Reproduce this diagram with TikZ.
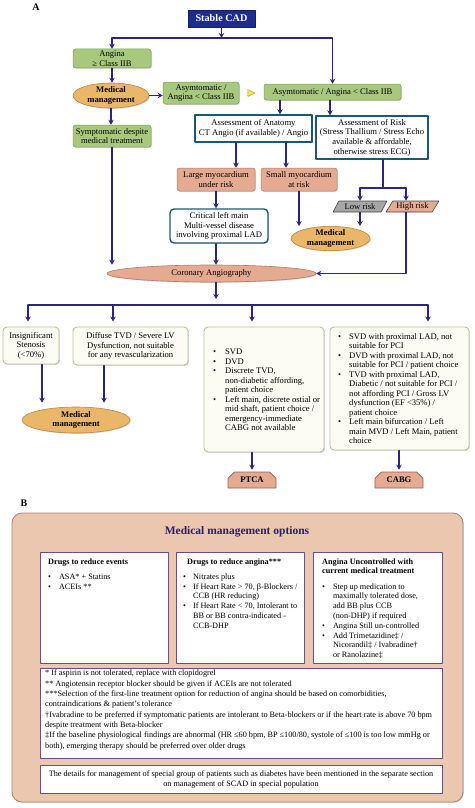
\documentclass[tikz,border=0pt]{standalone}
\usepackage{fontspec}
\setmainfont{Liberation Serif}
\usepackage{xcolor}
\usepackage{tikz}
\usetikzlibrary{arrows.meta,calc,shapes.geometric,shapes.misc,shadows}

\definecolor{navyline}{RGB}{44,38,128}
\definecolor{cadblue}{RGB}{30,44,140}
\definecolor{greenf}{RGB}{168,200,126}
\definecolor{greenb}{RGB}{128,160,92}
\definecolor{orangef}{RGB}{234,182,106}
\definecolor{orangeb}{RGB}{186,136,66}
\definecolor{tealb}{RGB}{28,88,118}
\definecolor{salmonf}{RGB}{228,170,146}
\definecolor{salmonb}{RGB}{182,122,98}
\definecolor{grayf}{RGB}{166,166,166}
\definecolor{grayb}{RGB}{70,70,70}
\definecolor{creamf}{RGB}{252,252,244}
\definecolor{creamb}{RGB}{186,194,156}
\definecolor{peachf}{RGB}{236,199,175}
\definecolor{peachb}{RGB}{168,138,118}
\definecolor{purpleb}{RGB}{108,78,140}
\definecolor{titlec}{RGB}{44,28,108}
\definecolor{hintf}{RGB}{250,230,60}

\tikzset{
  >={Stealth[length=5pt,width=5.5pt]},
  every picture/.style={line cap=round,line join=round},
  conn/.style={draw=navyline, line width=1.1pt},
  arr/.style={conn, ->},
  boxshadow/.style={drop shadow={opacity=0.3, shadow xshift=0.9pt, shadow yshift=-0.9pt}},
  cadbox/.style={rectangle, fill=cadblue, draw=cadblue!70!black, text=white,
    font=\bfseries\fontsize{10.2}{12}\selectfont, inner sep=1pt},
  greenbox/.style={rectangle, rounded corners=2.5pt, fill=greenf, draw=greenb,
    line width=0.5pt, align=center, inner sep=1pt, boxshadow},
  mmoval/.style={ellipse, fill=orangef, draw=orangeb, line width=0.6pt, align=center,
    inner sep=0pt, font=\bfseries\fontsize{8.6}{9.3}\selectfont, boxshadow},
  tealbox/.style={rectangle, fill=white, draw=tealb, line width=1.4pt, align=center,
    inner sep=1pt, boxshadow},
  salmonbox/.style={rectangle, rounded corners=2.5pt, fill=salmonf, draw=salmonb,
    line width=0.5pt, align=center, inner sep=1pt, boxshadow},
  riskpar/.style={trapezium, trapezium left angle=55, trapezium right angle=125,
    trapezium stretches=true, draw=grayb, line width=0.6pt, inner sep=0pt},
  corooval/.style={ellipse, fill=salmonf, draw=salmonb, line width=0.6pt, inner sep=0pt, boxshadow},
  creambox/.style={rectangle, rounded corners=4pt, fill=creamf, draw=creamb, line width=0.9pt, boxshadow},
  procbox/.style={chamfered rectangle, chamfered rectangle corners={north west,north east},
    chamfered rectangle sep=3.5pt, fill=salmonf, draw=salmonb!80!black, line width=0.6pt,
    font=\bfseries\fontsize{8.6}{9.6}\selectfont, inner sep=0pt},
  peachpanel/.style={rectangle, rounded corners=10pt, fill=peachf, draw=peachb, line width=0.9pt, boxshadow},
  purplebox/.style={rectangle, fill=white, draw=purpleb, line width=1pt},
  panellabel/.style={font=\bfseries\fontsize{10}{12}\selectfont},
}

\begin{document}
\begin{tikzpicture}[x=1pt,y=-1pt,font=\fontsize{8.6}{9.6}\selectfont]
  \useasboundingbox (0,0) rectangle (474,808);

  % パネルA
  \node[panellabel] (labA) at (36,7) {A};
  \node[cadbox, minimum width=67pt, minimum height=17pt] (stable) at (221.5,18.5) {Stable CAD};

  % 左の列
  \node[greenbox, minimum width=78pt, minimum height=19pt] (angina) at (112,58.5) {Angina\\≥ Class IIB};
  \node[mmoval, minimum width=76pt, minimum height=25pt] (mm1) at (111,95.5) {Medical\\management};
  \node[greenbox, minimum width=76pt, minimum height=22pt] (asym1) at (201,93) {Asymtomatic /\\Angina < Class IIB};
  \node[greenbox, minimum width=78pt, minimum height=22pt] (symp) at (112,136) {Symptomatic despite\\medical treatment};
  \node[isosceles triangle, isosceles triangle stretches, fill=hintf, draw=orange!70!black,
    densely dotted, line width=0.5pt, minimum width=7pt, minimum height=7pt, inner sep=0pt] (hint) at (250,93) {};

  % 右の列
  \node[greenbox, minimum width=137pt, minimum height=16pt] (asym2) at (332.5,92) {Asymtomatic / Angina < Class IIB};
  \node[tealbox, minimum width=117pt, minimum height=27pt] (anat) at (253.5,128.5) {Assessment of Anatomy\\CT Angio (if available) / Angio};
  \node[tealbox, minimum width=112pt, minimum height=43pt] (risk) at (372,137.5) {Assessment of Risk\\(Stress Thallium / Stress Echo\\available \& affordable,\\otherwise stress ECG)};
  \node[salmonbox, minimum width=78pt, minimum height=23pt] (large) at (216,179.5) {Large myocardium\\under risk};
  \node[salmonbox, minimum width=76pt, minimum height=23pt] (small) at (299,179.5) {Small myocardium\\at risk};
  \node[riskpar, fill=grayf, minimum width=54pt, minimum height=11pt] (low) at (360,206.5) {Low risk};
  \node[riskpar, fill=salmonf, minimum width=53pt, minimum height=11pt] (high) at (412.5,206.5) {High risk};
  \node[mmoval, minimum width=79pt, minimum height=23pt] (mm2) at (330.5,238.5) {Medical\\management};
  \node[tealbox, rounded corners=4pt, minimum width=98pt, minimum height=34pt] (crit) at (219,226) {Critical left main\\Multi-vessel disease\\involving proximal LAD};
  \node[corooval, minimum width=209pt, minimum height=17pt] (coro) at (211.5,273.5) {Coronary Angiography};

  % 下段
  \node[creambox, minimum width=56pt, minimum height=37pt, align=center] (insig) at (31,345.5) {Insignificant\\Stenosis\\(<70\%)};
  \node[creambox, minimum width=115pt, minimum height=38pt, align=center] (diffuse) at (130.5,346) {Diffuse TVD / Severe LV\\Dysfunction, not suitable\\for any revascularization};
  \node[creambox, minimum width=120pt, minimum height=125pt] (ptcabox) at (264,389.5) {};
  \node[anchor=west, inner sep=0pt, font=\fontsize{8.6}{9.5}\selectfont] (ptcatext) at (213,391) {%
    \begin{tabular}{@{}l@{\hspace{9pt}}l@{}}
      \textbullet & SVD\\
      \textbullet & DVD\\
      \textbullet & Discrete TVD,\\
                  & non-diabetic affording,\\
                  & patient choice\\
      \textbullet & Left main, discrete ostial or\\
                  & mid shaft, patient choice /\\
                  & emergency-immediate\\
                  & CABG not available
    \end{tabular}};
  \node[creambox, minimum width=139pt, minimum height=123pt] (cabgbox) at (399.5,388.5) {};
  \node[anchor=west, inner sep=0pt, font=\fontsize{8.6}{9.5}\selectfont] (cabgtext) at (338,389.5) {%
    \begin{tabular}{@{}l@{\hspace{8pt}}l@{}}
      \textbullet & SVD with proximal LAD, not\\
                  & suitable for PCI\\
      \textbullet & DVD with proximal LAD, not\\
                  & suitable for PCI / patient choice\\
      \textbullet & TVD with proximal LAD,\\
                  & Diabetic / not suitable for PCI /\\
                  & not affording PCI / Gross LV\\
                  & dysfunction (EF <35\%) /\\
                  & patient choice\\
      \textbullet & Left main bifurcation / Left\\
                  & main MVD / Left Main, patient\\
                  & choice
    \end{tabular}};
  \node[mmoval, minimum width=108pt, minimum height=26pt] (mm3) at (76,420) {Medical\\management};
  \node[procbox, minimum width=48pt, minimum height=16pt] (ptca) at (252,480) {PTCA};
  \node[procbox, minimum width=48pt, minimum height=16pt] (cabg) at (399,480) {CABG};

  % 矢印
  \coordinate (topfork) at (221.5,38);
  \draw[arr] (stable) -- (topfork);
  \draw[arr] (topfork) -| (angina.north);
  \draw[arr] (topfork) -| (asym2.north);
  \draw[arr] (angina.south) -- (angina.south |- mm1.north);
  \draw[arr] (mm1.south) -- (mm1.south |- symp.north);
  \draw[arr] (mm1.east) -- (mm1.east -| asym1.west);

  \coordinate (anatx) at (280,0);
  \coordinate (riskx) at (330,0);
  \draw[arr] (asym2.south -| anatx) -- (anatx |- anat.north);
  \draw[arr] (asym2.south -| riskx) -- (riskx |- risk.north);
  \coordinate (largex) at (236,0);
  \coordinate (smallx) at (286,0);
  \draw[arr] (anat.south -| largex) -- (largex |- large.north);
  \draw[arr] (anat.south -| smallx) -- (smallx |- small.north);

  \coordinate (riskfork) at (383,188);
  \coordinate (highx) at (406,0);
  \draw[conn] (risk.south -| riskfork) -- (riskfork);
  \draw[arr] (riskfork) -| (low.north);
  \draw[arr] (riskfork) -| (highx |- high.north);
  \draw[arr] (low.south) -- (low.south |- mm2.north);
  \draw[arr] (small.south) -- (small.south |- mm2.north);
  \draw[arr] (large.south) -- (large.south |- crit.north);
  \draw[arr] (crit.south -| large.south) -- (large.south |- coro.north);
  \draw[arr] (highx |- high.south) |- (coro.east);
  \draw[arr] (symp.south) -- (symp.south |- coro.north);

  \coordinate (corofork) at (216,299);
  \draw[arr] (coro.south -| corofork) -- (corofork);
  \foreach \n/\x in {insig/28,diffuse/113,ptcabox/252,cabgbox/428}{
    \coordinate (bus\n) at (\x,305);
    \draw[arr, shorten >=5pt] (bus\n) -- (bus\n |- \n.north);
  }
  \draw[conn] (businsig) -- (buscabgbox);

  \coordinate (mm3a) at (42,0);
  \coordinate (mm3b) at (104,0);
  \draw[arr, shorten >=4pt] (insig.south -| mm3a) -- (mm3a |- mm3.north);
  \draw[arr, shorten >=4pt] (diffuse.south -| mm3b) -- (mm3b |- mm3.north);
  \draw[arr, shorten >=2pt] (ptcabox.south -| ptca.north) -- (ptca.north);
  \draw[arr, shorten >=2pt] (cabgbox.south -| cabg.north) -- (cabg.north);

  % パネルB
  \node[panellabel] (labB) at (24,503) {B};
  \node[peachpanel, minimum width=451pt, minimum height=289pt] (medopt) at (237.5,657.5) {};
  \node[font=\bfseries\fontsize{11.5}{13}\selectfont, text=titlec] (medtitle) at (237,532) {Medical management options};

  \begin{scope}[font=\fontsize{8.2}{9.8}\selectfont]
    \node[purplebox, minimum width=128pt, minimum height=111pt] (drugev) at (104,607.5) {};
    \node[anchor=north west, inner sep=0pt] (drugevtext) at (48,557) {%
      \begin{tabular}{@{}l@{\hspace{8pt}}l@{}}
        \multicolumn{2}{@{}l@{}}{\textbf{Drugs to reduce events}}\\[5.5pt]
        \textbullet & ASA* + Statins\\
        \textbullet & ACEIs **
      \end{tabular}};
    \node[purplebox, minimum width=128pt, minimum height=111pt] (drugang) at (240.5,607.5) {};
    \node[anchor=north west, inner sep=0pt] (drugangtext) at (183,557) {%
      \begin{tabular}{@{}l@{\hspace{7pt}}l@{}}
        \multicolumn{2}{@{\hspace{4pt}}l@{}}{\textbf{Drugs to reduce angina***}}\\[5.5pt]
        \textbullet & Nitrates plus\\
        \textbullet & If Heart Rate > 70, β-Blockers /\\
                    & CCB (HR reducing)\\
        \textbullet & If Heart Rate < 70, Intolerant to\\
                    & BB or BB contra-indicated -\\
                    & CCB-DHP
      \end{tabular}};
    \node[purplebox, minimum width=129pt, minimum height=111pt] (uncontr) at (377.5,607.5) {};
    \node[anchor=north west, inner sep=0pt] (uncontrtext) at (322,557) {%
      \begin{tabular}{@{}l@{\hspace{8pt}}l@{}}
        \multicolumn{2}{@{}l@{}}{\textbf{Angina Uncontrolled with}}\\
        \multicolumn{2}{@{}l@{}}{\textbf{current medical treatment}}\\[5.5pt]
        \textbullet & Step up medication to\\
                    & maximally tolerated dose,\\
                    & add BB plus CCB\\
                    & (non-DHP) if required\\
        \textbullet & Angina Still un-controlled\\
        \textbullet & Add Trimetazidine‡ /\\
                    & Nicorandil‡ / Ivabradine†\\
                    & or Ranolazine‡
      \end{tabular}};

    % 脚注
    \node[purplebox, minimum width=402pt, minimum height=90pt] (notes) at (241,713) {};
    \node[anchor=north west, inner sep=0pt, align=left, font=\fontsize{8.2}{10.3}\selectfont] (notestext) at (45,670) {%
      * If aspirin is not tolerated, replace with clopidogrel\\
      {}** Angiotensin receptor blocker should be given if ACEIs are not tolerated\\
      {}***Selection of the first-line treatment option for reduction of angina should be based on comorbidities,\\
      contraindications \& patient’s tolerance\\
      †Ivabradine to be preferred if symptomatic patients are intolerant to Beta-blockers or if the heart rate is above 70 bpm\\
      despite treatment with Beta-blocker\\
      ‡If the baseline physiological findings are abnormal (HR ≤60 bpm, BP ≤100/80, systole of ≤100 is too low mmHg or\\
      both), emerging therapy should be preferred over older drugs};
    \node[purplebox, minimum width=402pt, minimum height=28pt, align=center, font=\fontsize{8.2}{10}\selectfont] (special) at (241,779) {%
      The details for management of special group of patients such as diabetes have been mentioned in the separate section\\
      on management of SCAD in special population};
  \end{scope}
\end{tikzpicture}
\end{document}
